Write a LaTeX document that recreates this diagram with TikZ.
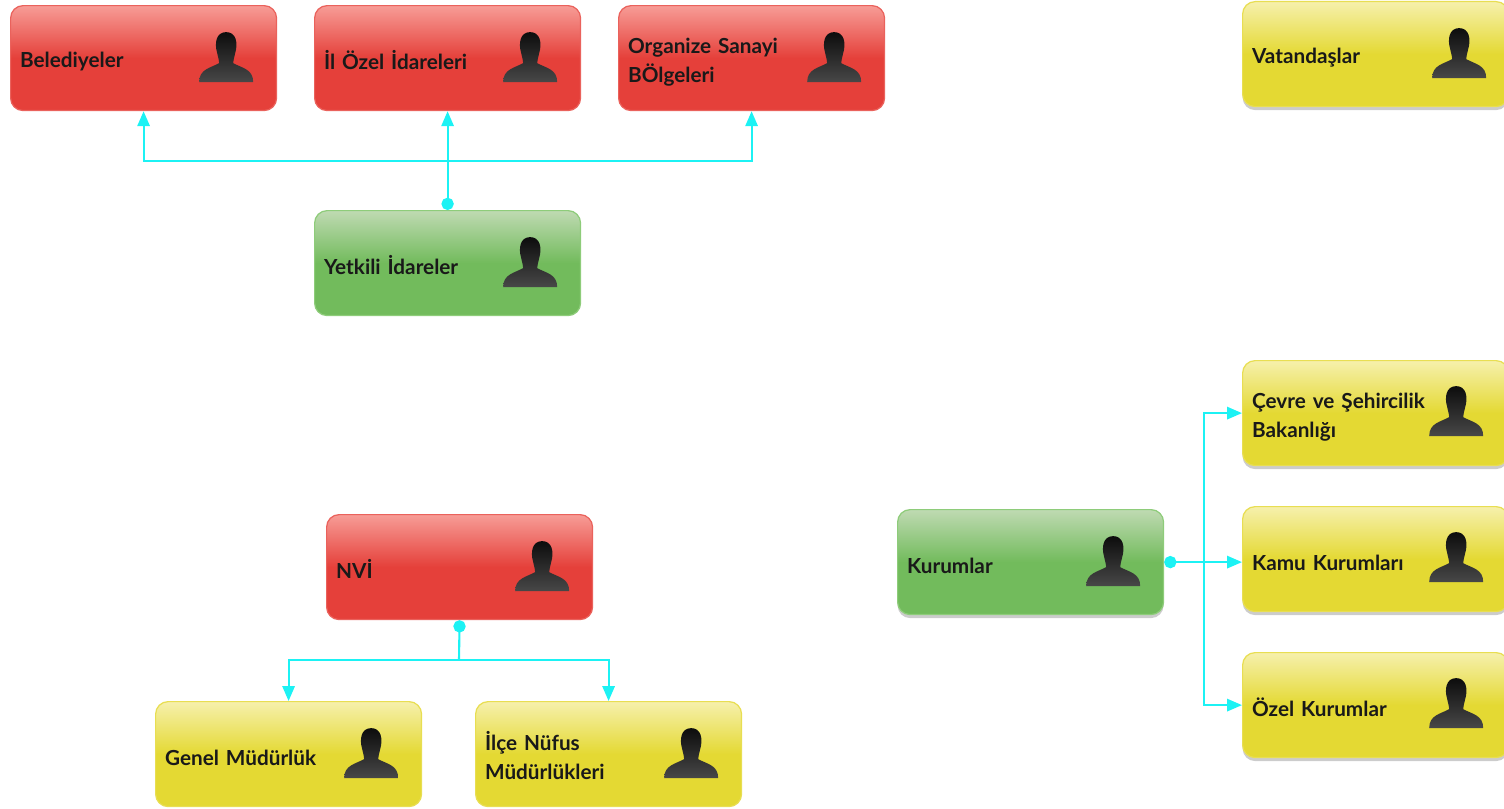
\documentclass[tikz,border=0pt]{standalone}
\usepackage{fontspec}
\setmainfont{Lato}
\usetikzlibrary{arrows.meta,positioning,shadows}

\definecolor{redbase}{HTML}{E5403A}
\definecolor{redtop}{HTML}{F79C96}
\definecolor{redline}{HTML}{EA625C}
\definecolor{greenbase}{HTML}{72BB5C}
\definecolor{greentop}{HTML}{BFDAB2}
\definecolor{greenline}{HTML}{8ECC7A}
\definecolor{yellowbase}{HTML}{E4D933}
\definecolor{yellowtop}{HTML}{F6F0AC}
\definecolor{yellowline}{HTML}{E8DE52}
\definecolor{linkcyan}{HTML}{1CF2F4}

\pgfdeclareverticalshading{redglass}{100bp}{color(0bp)=(redbase); color(50bp)=(redbase); color(75bp)=(redtop); color(100bp)=(redtop)}
\pgfdeclareverticalshading{greenglass}{100bp}{color(0bp)=(greenbase); color(50bp)=(greenbase); color(75bp)=(greentop); color(100bp)=(greentop)}
\pgfdeclareverticalshading{yellowglass}{100bp}{color(0bp)=(yellowbase); color(50bp)=(yellowbase); color(75bp)=(yellowtop); color(100bp)=(yellowtop)}

\tikzset{
    actor/.style = {rectangle, rounded corners=2.5mm, line width=0.7pt, anchor=north west,
        minimum height=2.1cm, text width=4.94cm, inner xsep=1.9mm, inner ysep=0pt, align=left,
        execute at begin node={\rule{0pt}{13pt}},
        font=\fontsize{11.8}{16.5}\selectfont\bfseries, text=black!90},
    redactor/.style = {actor, draw=redline, shading=redglass},
    greenactor/.style = {actor, draw=greenline, shading=greenglass},
    yellowactor/.style = {actor, draw=yellowline, shading=yellowglass},
    lifted/.style = {drop shadow={opacity=0.4, shadow xshift=0pt, shadow yshift=-2pt}},
    link/.style = {draw=linkcyan, line width=1.2pt},
    tip/.style = {-{Triangle[length=8.5pt,width=7pt,fill=linkcyan]}},
    dottip/.style = {{Circle[length=7pt,width=7pt,fill=linkcyan]}-{Triangle[length=8.5pt,width=7pt,fill=linkcyan]}},
    dotstart/.style = {{Circle[length=7pt,width=7pt,fill=linkcyan]}-},
    person/.pic = {
        \path[top color=black!95, bottom color=black!72]
            (-27,25) .. controls (-27,12) and (-16,11) .. (-7,6)
            .. controls (-7,3) and (-8,1) .. (-9,-4)
            .. controls (-12,-14) and (-10,-25) .. (0,-25)
            .. controls (10,-25) and (12,-14) .. (9,-4)
            .. controls (8,1) and (7,3) .. (7,6)
            .. controls (16,11) and (27,12) .. (27,25) -- cycle;
    }
}

\begin{document}
\begin{tikzpicture}[x=0.02cm,y=-0.02cm]
    \path[use as bounding box,clip] (0,0) rectangle (1504,808);

    % top left group
    \node [redactor] (belediye) at (10,5) {Belediyeler};
    \node [redactor] (ilozel) at (314,5) {İl Özel İdareleri};
    \node [redactor] (organize) at (618,5) {Organize Sanayi\\BÖlgeleri};
    \node [greenactor] (yetkili) at (314,210) {Yetkili İdareler};

    % top right
    \node [yellowactor,lifted] (vatandas) at (1242,1) {Vatandaşlar};

    % bottom left group
    \node [redactor] (nvi) at (326,514) {NVİ};
    \node [yellowactor] (genel) at (155,701) {Genel Müdürlük};
    \node [yellowactor] (ilce) at (475,701) {İlçe Nüfus\\Müdürlükleri};

    % bottom right group
    \node [greenactor,lifted] (kurumlar) at (897,509) {Kurumlar};
    \node [yellowactor,lifted] (cevre) at (1242,360) {Çevre ve Şehircilik\\Bakanlığı};
    \node [yellowactor,lifted] (kamu) at (1242,506) {Kamu Kurumları};
    \node [yellowactor,lifted] (ozel) at (1242,652) {Özel Kurumlar};

    \foreach \actorname in {belediye,ilozel,organize,yetkili,nvi,genel,ilce,kurumlar}
        \pic at ([xshift=-1.02cm,yshift=0.02cm]\actorname.east) {person};
    \foreach \actorname in {vatandas}
        \pic at ([xshift=-1cm,yshift=0.02cm]\actorname.east) {person};
    \foreach \actorname in {cevre,kamu,ozel}
        \pic at ([xshift=-1.06cm,yshift=0.04cm]\actorname.east) {person};

    \coordinate (busup) at (447,161);
    \coordinate (busdown) at (459,660);
    \coordinate (busright) at (1204,562);

    \draw [link,dottip] (yetkili.north) -- (ilozel.south);
    \draw [link,tip] (busup) -| (belediye.south);
    \draw [link,tip] (busup) -| (organize.south);

    \draw [link,dotstart] (nvi.south) -- (busdown);
    \draw [link,tip] (busdown) -| (genel.north);
    \draw [link,tip] (busdown) -| (ilce.north);

    \draw [link,dottip] (kurumlar.east) -- (kurumlar.east -| kamu.west);
    \draw [link,tip] (busright) |- (cevre.west);
    \draw [link,tip] (busright) |- (ozel.west);
\end{tikzpicture}
\end{document}
